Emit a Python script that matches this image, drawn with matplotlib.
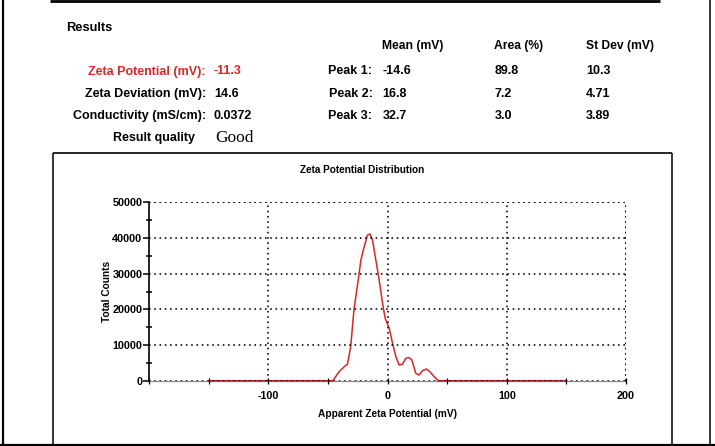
import matplotlib
matplotlib.use("Agg")
import matplotlib.pyplot as plt
from matplotlib.lines import Line2D
from matplotlib.ticker import MultipleLocator

# ---- data ----
zeta_mv = [-150, -46, -40.7, -36.5, -33.7, -31, -28.3, -23.9, -22.5, -19.7, -16.9,
           -14.7, -12.7, -9.9, -7.1, -4.3, -2.1, 1.3, 4.1, 6.9, 9.6, 12.4, 15.2,
           18, 20.3, 23.6, 26.4, 29.2, 32.5, 35.4, 39, 42.6, 150]
counts = [0, 0, 2530, 3900, 4680, 9530, 19800, 30100, 33800, 37560, 40840,
          41100, 39400, 33800, 28200, 21700, 17500, 14700, 10480, 6730, 4400, 4600, 6270,
          6500, 5800, 2070, 1600, 2800, 3280, 2520, 1120, 0, 0]
x_ticks = [-100, 0, 100, 200]
x_ticklabels = ["-100", "0", "100", "200"]
y_ticks = [0, 10000, 20000, 30000, 40000, 50000]
y_ticklabels = ["0", "10000", "20000", "30000", "40000", "50000"]

summary_labels = ["Zeta Potential (mV):", "Zeta Deviation (mV):", "Conductivity (mS/cm):", "Result quality"]
summary_values = ["-11.3", "14.6", "0.0372", "Good"]
peak_labels = ["Peak 1:", "Peak 2:", "Peak 3:"]
peak_cols = ["Mean (mV)", "Area (%)", "St Dev (mV)"]
peak_mean = ["-14.6", "16.8", "32.7"]
peak_area = ["89.8", "7.2", "3.0"]
peak_sd = ["10.3", "4.71", "3.89"]

W, H = 715, 446
fig = plt.figure(figsize=(W / 100, H / 100), dpi=100)
fig.patch.set_facecolor("white")

def fx(x):
    return x / W

def fy(y):
    return 1 - y / H

SANS = "Liberation Sans"
RED = "#d92626"
FS = 9.0

def line(x0, y0, x1, y1, lw, color="black"):
    fig.add_artist(Line2D([fx(x0), fx(x1)], [fy(y0), fy(y1)], transform=fig.transFigure,
                          color=color, lw=lw, solid_capstyle="butt"))

# outer frame
line(2.5, 0, 2.5, 446, 1.6)
line(50, 1.2, 660, 1.2, 2.0)
line(710, 0, 710, 446, 1.1)
line(0, 444.8, 715, 444.8, 1.6)
# inner frame
line(52.7, 153, 52.7, 446, 1.1)
line(52.7, 153, 672, 153, 1.2)
line(672, 153, 672, 446, 1.1)

# header texts
fig.text(fx(66), fy(28), "Results", family=SANS, weight="bold", fontsize=9.3, va="center", ha="left")
rows_y = [71.5, 94, 116.5]
for i, (lab, val) in enumerate(zip(summary_labels[:3], summary_values[:3])):
    c = RED if i == 0 else "black"
    fig.text(fx(206), fy(rows_y[i]), lab, family=SANS, weight="bold", fontsize=FS,
             ha="right", va="center", color=c)
    fig.text(fx(214), fy(rows_y[i]), val, family=SANS, weight="bold", fontsize=FS,
             ha="left", va="center", color=c)
fig.text(fx(195), fy(138.5), summary_labels[3], family=SANS, weight="bold", fontsize=FS,
         ha="right", va="center")
fig.text(fx(215.5), fy(138), summary_values[3], family="Liberation Serif", fontsize=12.5,
         ha="left", va="center")

col_x = [382.5, 494.5, 586]
for cx, name in zip(col_x, peak_cols):
    fig.text(fx(cx), fy(46), name, family=SANS, weight="bold", fontsize=8.7, ha="left", va="center")
for i, lab in enumerate(peak_labels):
    fig.text(fx(372.5), fy(rows_y[i]), lab, family=SANS, weight="bold", fontsize=FS,
             ha="right", va="center")
    for cx, vals in zip(col_x, [peak_mean, peak_area, peak_sd]):
        fig.text(fx(cx), fy(rows_y[i]), vals[i], family=SANS, weight="bold", fontsize=FS,
                 ha="left", va="center")

# chart title
fig.text(fx(362.5), fy(170), "Zeta Potential Distribution", family=SANS, weight="bold",
         fontsize=7.2, ha="center", va="center")

# axes
ax_l, ax_r, ax_t, ax_b = 149.3, 626, 202.3, 380.7
ax = fig.add_axes([fx(ax_l), fy(ax_b), fx(ax_r - ax_l), (ax_b - ax_t) / H])
ax.set_facecolor("white")
ax.plot(zeta_mv, counts, color=RED, lw=1.1, zorder=2, clip_on=False)
ax.set_xlim(-200, 200)
ax.set_ylim(0, 50000)
ax.set_xticks(x_ticks)
ax.set_xticklabels(x_ticklabels)
ax.set_yticks(y_ticks)
ax.set_yticklabels(y_ticklabels)
ax.xaxis.set_minor_locator(MultipleLocator(50))
ax.yaxis.set_minor_locator(MultipleLocator(5000))
for s in ["top", "right"]:
    ax.spines[s].set_visible(False)
ax.spines["left"].set_linewidth(1.2)
ax.spines["left"].set_color("black")
ax.spines["bottom"].set_linewidth(0.9)
ax.spines["bottom"].set_color((0.15, 0.15, 0.15, 0.55))
ax.grid(True, which="major", color="black", lw=1.15, linestyle=(0, (1.0, 2.3)))
ax.set_axisbelow(False)
# grid lines at the far edges (right and top)
ax.axvline(200, color="black", lw=1.15, linestyle=(0, (1.0, 2.3)), zorder=1)
ax.axhline(50000, color="black", lw=1.15, linestyle=(0, (1.0, 2.3)), zorder=1)
for gl in ax.get_xgridlines() + ax.get_ygridlines():
    gl.set_zorder(1)

ax.tick_params(axis="x", which="both", direction="inout", length=5, width=0.9, colors="black",
               labelsize=7.8, pad=5)
ax.tick_params(axis="x", which="minor", length=5)
ax.tick_params(axis="y", which="major", direction="out", length=4, width=1.1, labelsize=7.8, pad=1)
ax.tick_params(axis="y", which="minor", direction="inout", length=5, width=1.1)
for t in ax.get_xticklabels() + ax.get_yticklabels():
    t.set_family(SANS)
    t.set_weight("bold")

ax.set_xlabel("Apparent Zeta Potential (mV)", family=SANS, weight="bold", fontsize=7.3, labelpad=6)
ax.set_ylabel("Total Counts", family=SANS, weight="bold", fontsize=7.3, labelpad=0.5)

fig.savefig("out.png", dpi=100, facecolor="white")
